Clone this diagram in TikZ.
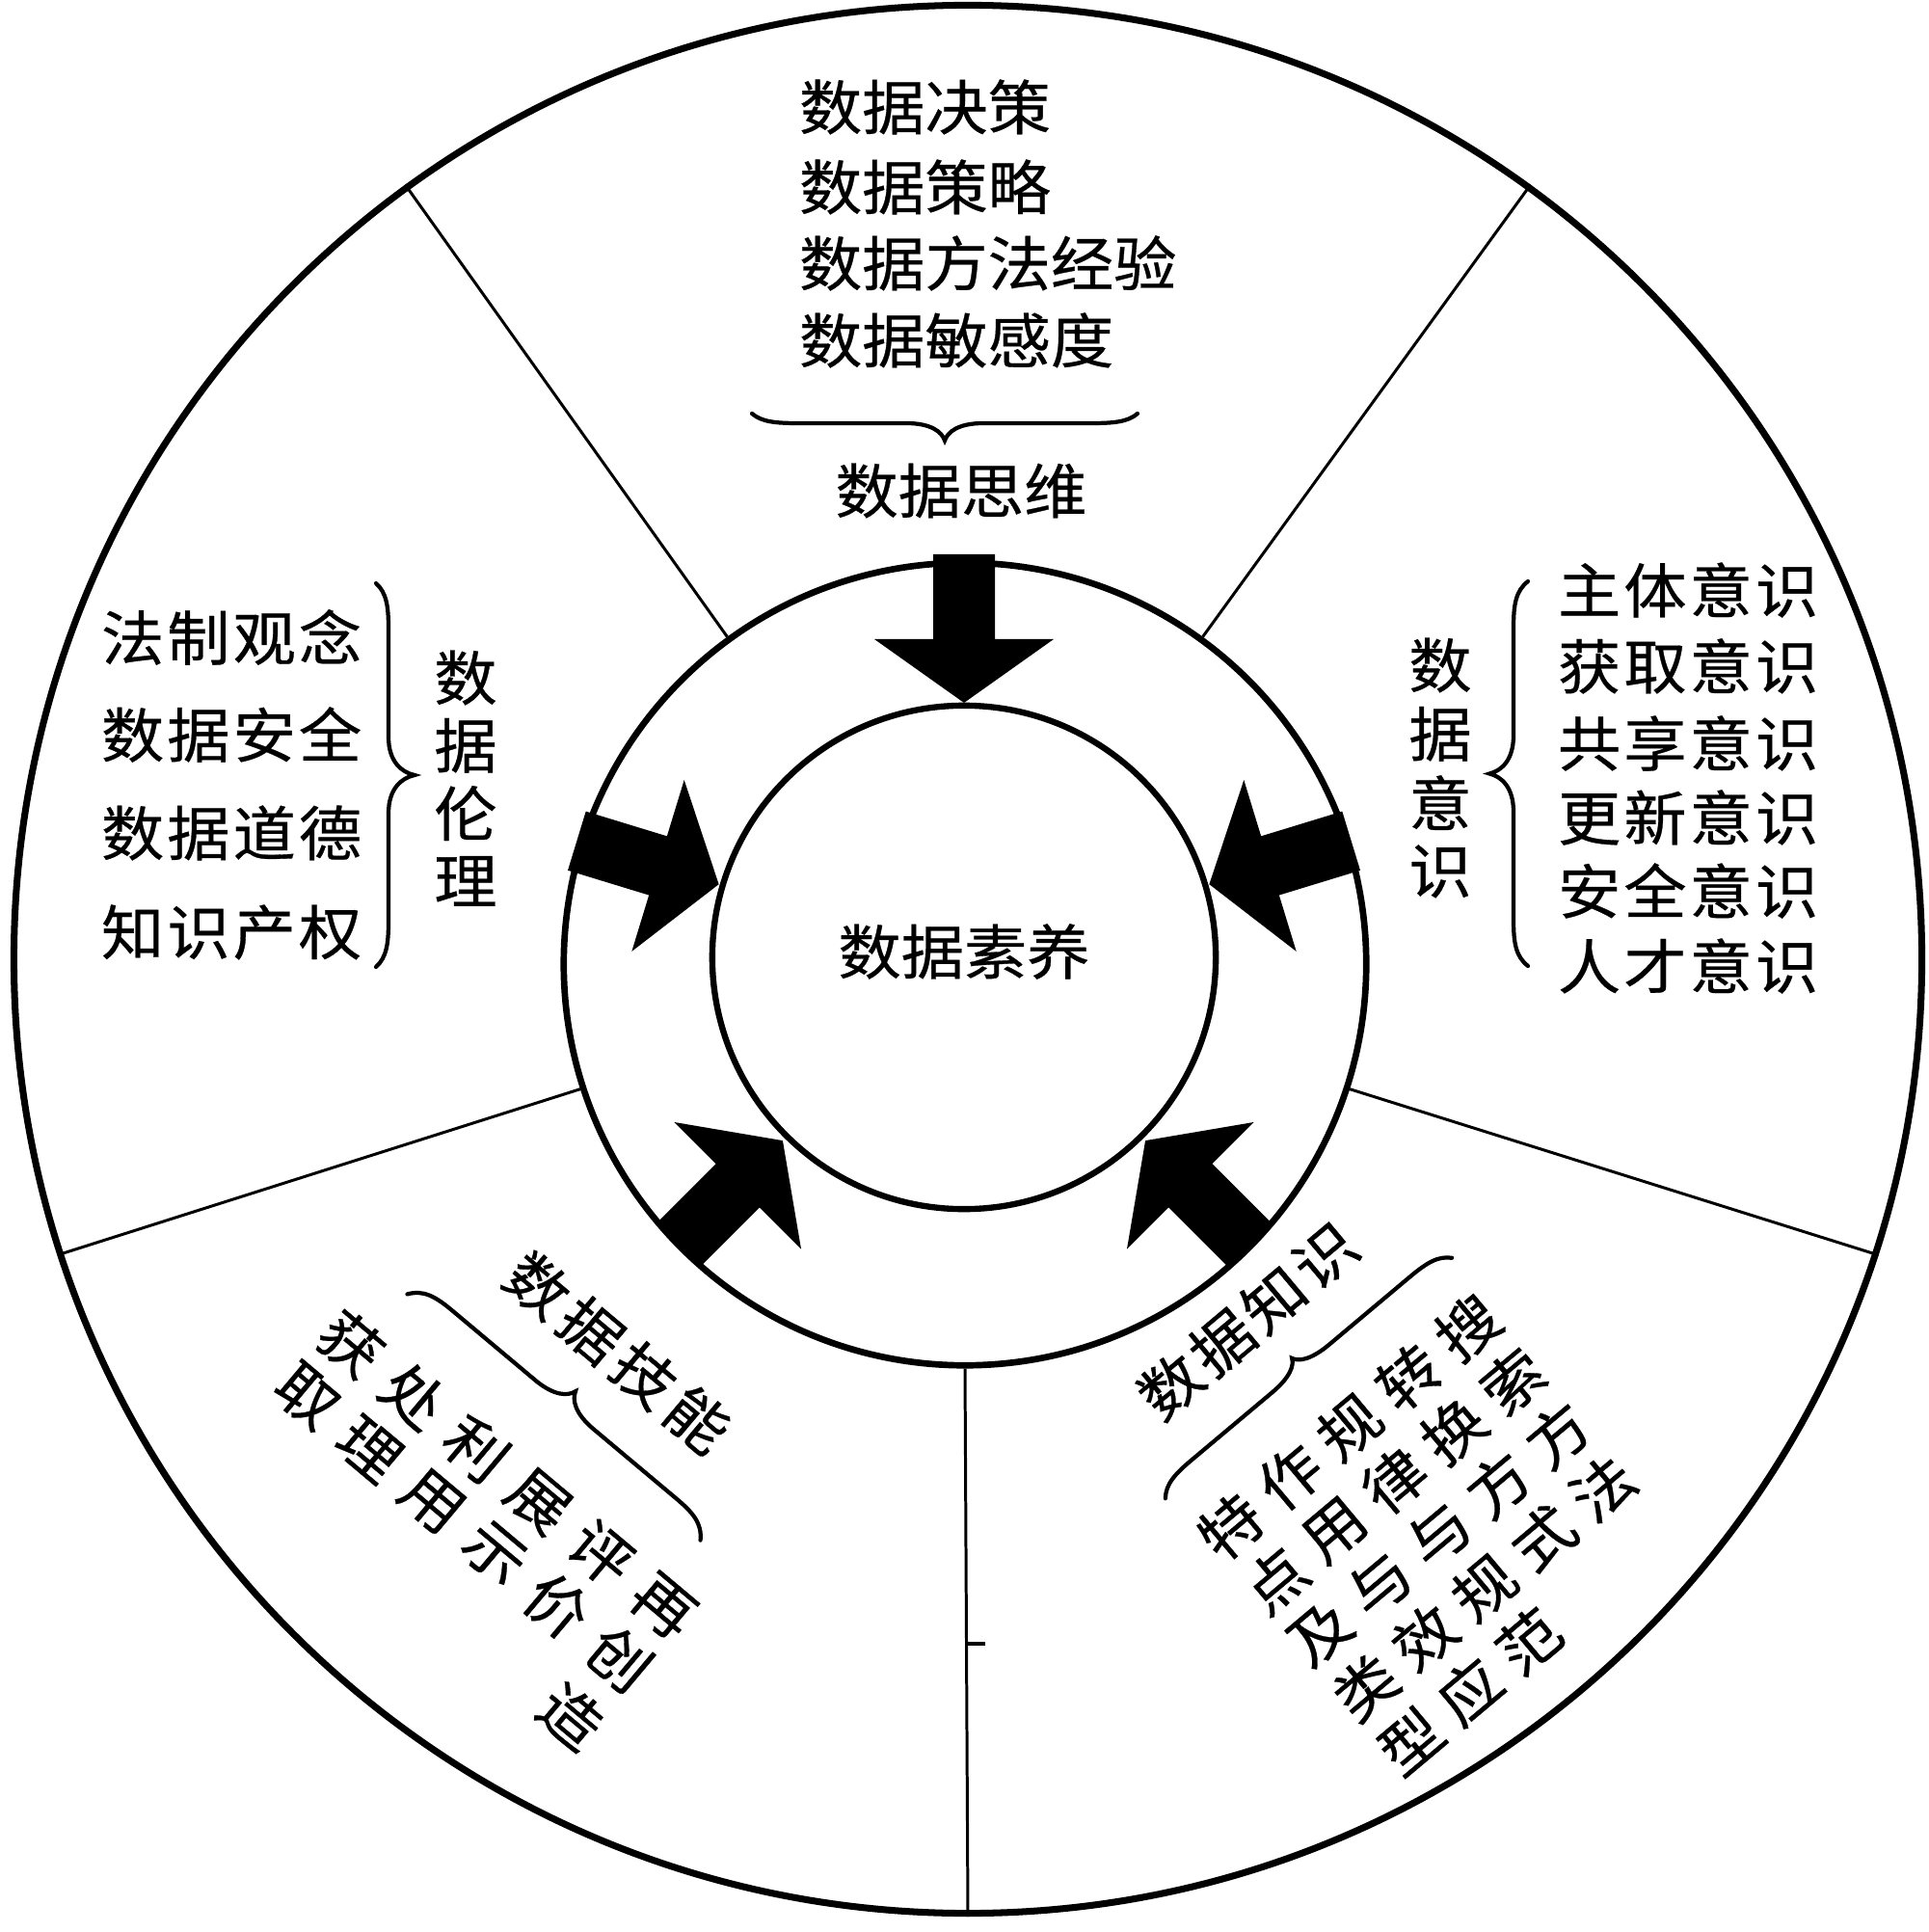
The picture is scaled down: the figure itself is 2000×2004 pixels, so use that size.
\documentclass[tikz,border=0pt]{standalone}
\usepackage{fontspec}
\newfontfamily\cjk[FakeStretch=1.06,FakeBold=0.5]{Noto Sans CJK SC}
\newcommand\cbrace[3]{%
  \draw[brc] (-#1,0) .. controls ({-0.95*#1},{0.85*#2}) and ({-0.88*#1},#2) .. ({-0.76*#1},#2)
    -- ({-0.2*#1},#2) .. controls ({-0.07*#1},#2) and ({-0.015*#1},{0.5*(#2+#3)}) .. (0,#3)
    .. controls ({0.015*#1},{0.5*(#2+#3)}) and ({0.07*#1},#2) .. ({0.2*#1},#2)
    -- ({0.76*#1},#2) .. controls ({0.88*#1},#2) and ({0.95*#1},{0.85*#2}) .. (#1,0);}
\begin{document}
\begin{tikzpicture}[x=0.01cm, y=0.01cm,
  txt/.style={font={\cjk\fontsize{17.5}{21}\selectfont}, inner sep=0pt, outer sep=0pt},
  wtxt/.style={font={\cjk\addfontfeature{LetterSpace=5}\fontsize{17.5}{21}\selectfont}, inner sep=0pt, outer sep=0pt},
  ring/.style={circle, draw, inner sep=0pt},
  brc/.style={line width=1.2pt, line cap=round},
  divider/.style={line width=0.85pt}]
\useasboundingbox (0,0) rectangle (2000,-2004);

% circles
\node[ring, line width=2pt, minimum size=19.78cm] (outer) at (1004,-995) {};
\node[ring, line width=1.9pt, minimum size=8.32cm] (mid) at (1001,-1000) {};
\node[ring, line width=1.8pt, minimum size=5.22cm] (inner) at (1000,-993) {};

% dividers
\foreach \a in {54,126,198,270,342}
  \draw[divider] (mid.\a) -- (outer.\a);
\coordinate (tickA) at (1001,-1705);
\coordinate (tickB) at (1022,-1705);
\draw[line width=1pt] (tickA) -- (tickB);

% arrows
\foreach \a in {90,163,17,225,315}{
  \begin{scope}[shift={(1000,-995)}, rotate=\a]
    \fill[black] (266,0) -- (332,93) -- (332,32) -- (420,32) -- (420,-32) -- (332,-32) -- (332,-93) -- cycle;
  \end{scope}}

% center
\node[txt] (core) at (1000,-987) {数据素养};

% top: data thinking
\foreach \t/\y [count=\i] in {数据决策/111,数据策略/194,数据方法经验/273,数据敏感度/353}
  \node[txt, anchor=west] (think\i) at (829,-\y) {\t};
\begin{scope}[shift={(980,-429)}, rotate=180]
  \cbrace{200}{10}{28}
\end{scope}
\node[txt] (thinkL) at (997,-509) {数据思维};

% left: data ethics
\foreach \t/\y [count=\i] in {法制观念/661,数据安全/762,数据道德/864,知识产权/967}
  \node[wtxt, anchor=west] (eth\i) at (105,-\y) {\t};
\begin{scope}[shift={(390,-804)}, rotate=-90]
  \cbrace{199}{13}{40}
\end{scope}
\foreach \c [count=\i] in {数,据,伦,理}
  \node[txt] (ethL\i) at (483,{-703-70.3*(\i-1)}) {\c};

% right: data awareness
\foreach \t/\y [count=\i] in {主体意识/612,获取意识/691,共享意识/771,更新意识/848,安全意识/924,人才意识/1002}
  \node[wtxt, anchor=west] (aw\i) at (1616,-\y) {\t};
\begin{scope}[shift={(1585,-802.5)}, rotate=90]
  \cbrace{199.5}{15}{40}
\end{scope}
\foreach \c [count=\i] in {数,据,意,识}
  \node[txt] (awL\i) at (1494,{-690-71.3*(\i-1)}) {\c};

% bottom-left: data skills
\begin{scope}[shift={(574.5,-1470)}, rotate=-40, transform shape]
  \foreach \c [count=\k] in {数,据,技,能}
    \node[txt] (skL\k) at ({-100.5+72.2*(\k-1)},94) {\c};
  \cbrace{198.5}{17}{35}
  \foreach \row/\b [count=\j] in {{获,处,利,展,评,再}/-77,{取,理,用,示,价,创}/-148}
    \foreach \c [count=\k] in \row
      \node[txt] (sk-\j-\k) at ({-210+84.6*(\k-1)},\b) {\c};
  \node[txt] (sk-3-6) at ({-210+84.6*5},-226) {造};
\end{scope}

% bottom-right: data knowledge
\begin{scope}[shift={(1357.5,-1429.5)}, rotate=40, transform shape]
  \foreach \c [count=\k] in {数,据,知,识}
    \node[txt] (knL\k) at ({-114.7+69.8*(\k-1)},86) {\c};
  \cbrace{194}{13}{27}
  \foreach \row [count=\j] in {{特,作,规,转,搜},{点,用,律,换,索},{及,与,与,方,方},{类,效,规,式,法},{型,应,范}}
    \foreach \c [count=\k] in \row
      \node[txt] (kn-\j-\k) at ({-161+80.3*(\k-1)},{-66-72.5*(\j-1)}) {\c};
\end{scope}
\end{tikzpicture}
\end{document}
